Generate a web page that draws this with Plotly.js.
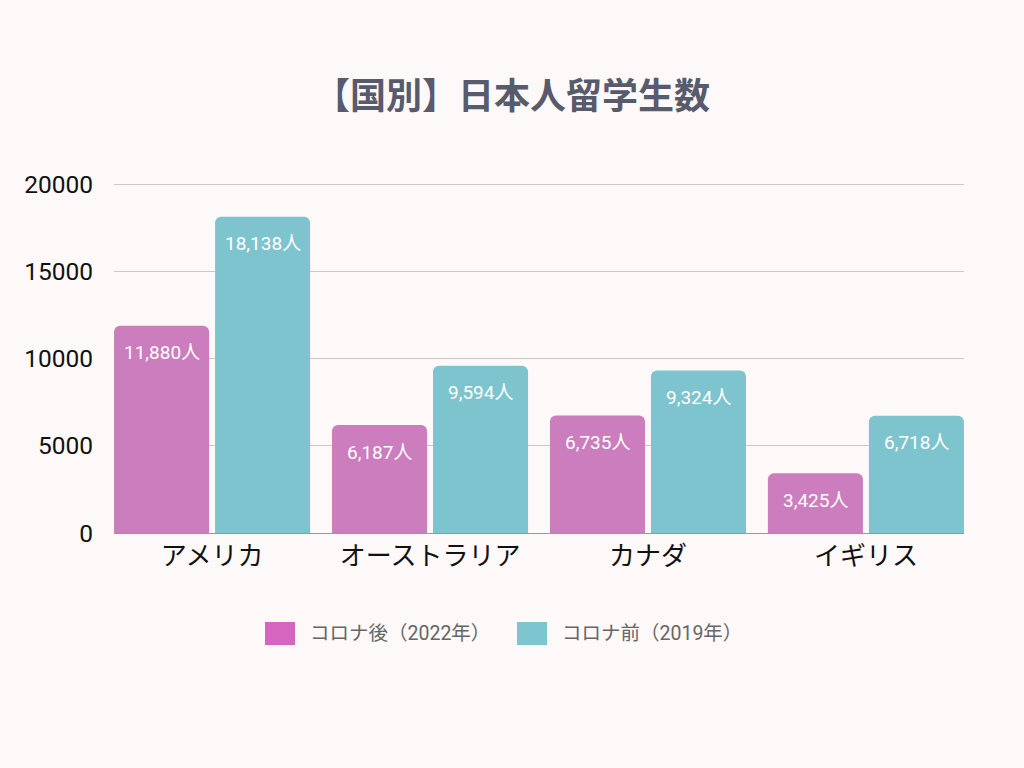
<!DOCTYPE html>
<html>
<head>
<meta charset="utf-8">
<script src="https://cdn.plot.ly/plotly-3.0.1.min.js"></script>
<style>html,body{margin:0;padding:0;background:#fdf9f8;}#chart{width:1024px;height:768px;}</style>
</head>
<body>
<div id="chart"></div>
<script>
const categories = ['アメリカ', 'オーストラリア', 'カナダ', 'イギリス'];
const after2022 = [11880, 6187, 6735, 3425];
const before2019 = [18138, 9594, 9324, 6718];
const seriesNames = ['コロナ後（2022年）', 'コロナ前（2019年）'];
const barColors = ['#cb7dbd', '#7ec4ce'];
const legendColors = ['#d466bf', '#7ec6cf'];
const yTicks = [0, 5000, 10000, 15000, 20000];

const fontFam = 'Roboto, "Noto Sans CJK JP", sans-serif';
const fmt = v => v.toLocaleString('en-US') + '人';

const traces = [
  {type: 'bar', x: categories, y: after2022, name: seriesNames[0], marker: {color: barColors[0]}, showlegend: false, hoverinfo: 'none'},
  {type: 'bar', x: categories, y: before2019, name: seriesNames[1], marker: {color: barColors[1]}, showlegend: false, hoverinfo: 'none'}
];

const annotations = [];
[after2022, before2019].forEach((arr, s) => {
  arr.forEach((v, i) => {
    annotations.push({x: i, y: v, xref: 'x', yref: 'y', text: fmt(v), showarrow: false,
      xshift: s === 0 ? -50.5 : 50.5, yshift: -27,
      font: {family: fontFam, size: 19, color: '#ffffff'}});
  });
});

const H = 768, mT = 179, mB = 235, plotH = H - mT - mB;
const mL = 114, mR = 60, plotW = 1024 - mL - mR;

const layout = {
  width: 1024, height: 768,
  paper_bgcolor: '#fdf9f8', plot_bgcolor: '#fdf9f8',
  margin: {l: mL, r: mR, t: mT, b: mB},
  title: {text: '<b>【国別】日本人留学生数</b>', x: 0.5, xanchor: 'center', y: 0.874, yanchor: 'middle',
    font: {family: '"Noto Sans CJK JP", sans-serif', size: 36, color: '#575b6b'}},
  barmode: 'group', bargap: 0.073, bargroupgap: 0.059, barcornerradius: 6,
  xaxis: {type: 'category', range: [-0.45, 3.45], showgrid: false, zeroline: false,
    showline: true, linecolor: '#999999', linewidth: 1, ticks: '',
    tickfont: {family: fontFam, size: 26, color: '#111111'}},
  yaxis: {range: [0, 20300], tickvals: yTicks, ticktext: yTicks.map(String),
    showgrid: true, gridcolor: '#c8c8c8', gridwidth: 1, zeroline: false, showline: false,
    ticks: '', ticklabelstandoff: 20,
    tickfont: {family: fontFam, size: 24.5, color: '#111111'}},
  showlegend: false,
  annotations: annotations,
  shapes: []
};

const px2x = px => (px - mL) / plotW;
const px2y = py => (H - mB - py) / plotH;
const legendBoxes = [[265, 295], [517, 547]];
legendBoxes.forEach((b, i) => {
  layout.shapes.push({type: 'rect', xref: 'paper', yref: 'paper',
    x0: px2x(b[0]), x1: px2x(b[1]), y0: px2y(645), y1: px2y(622),
    fillcolor: legendColors[i], line: {width: 0}});
  layout.annotations.push({xref: 'paper', yref: 'paper', x: px2x(b[1] + 13), y: px2y(633.5),
    xanchor: 'left', yanchor: 'middle', showarrow: false, text: seriesNames[i],
    font: {family: fontFam, size: 19.5, color: '#666666'}});
});

Plotly.newPlot('chart', traces, layout, {displayModeBar: false, staticPlot: true});
</script>
</body>
</html>
